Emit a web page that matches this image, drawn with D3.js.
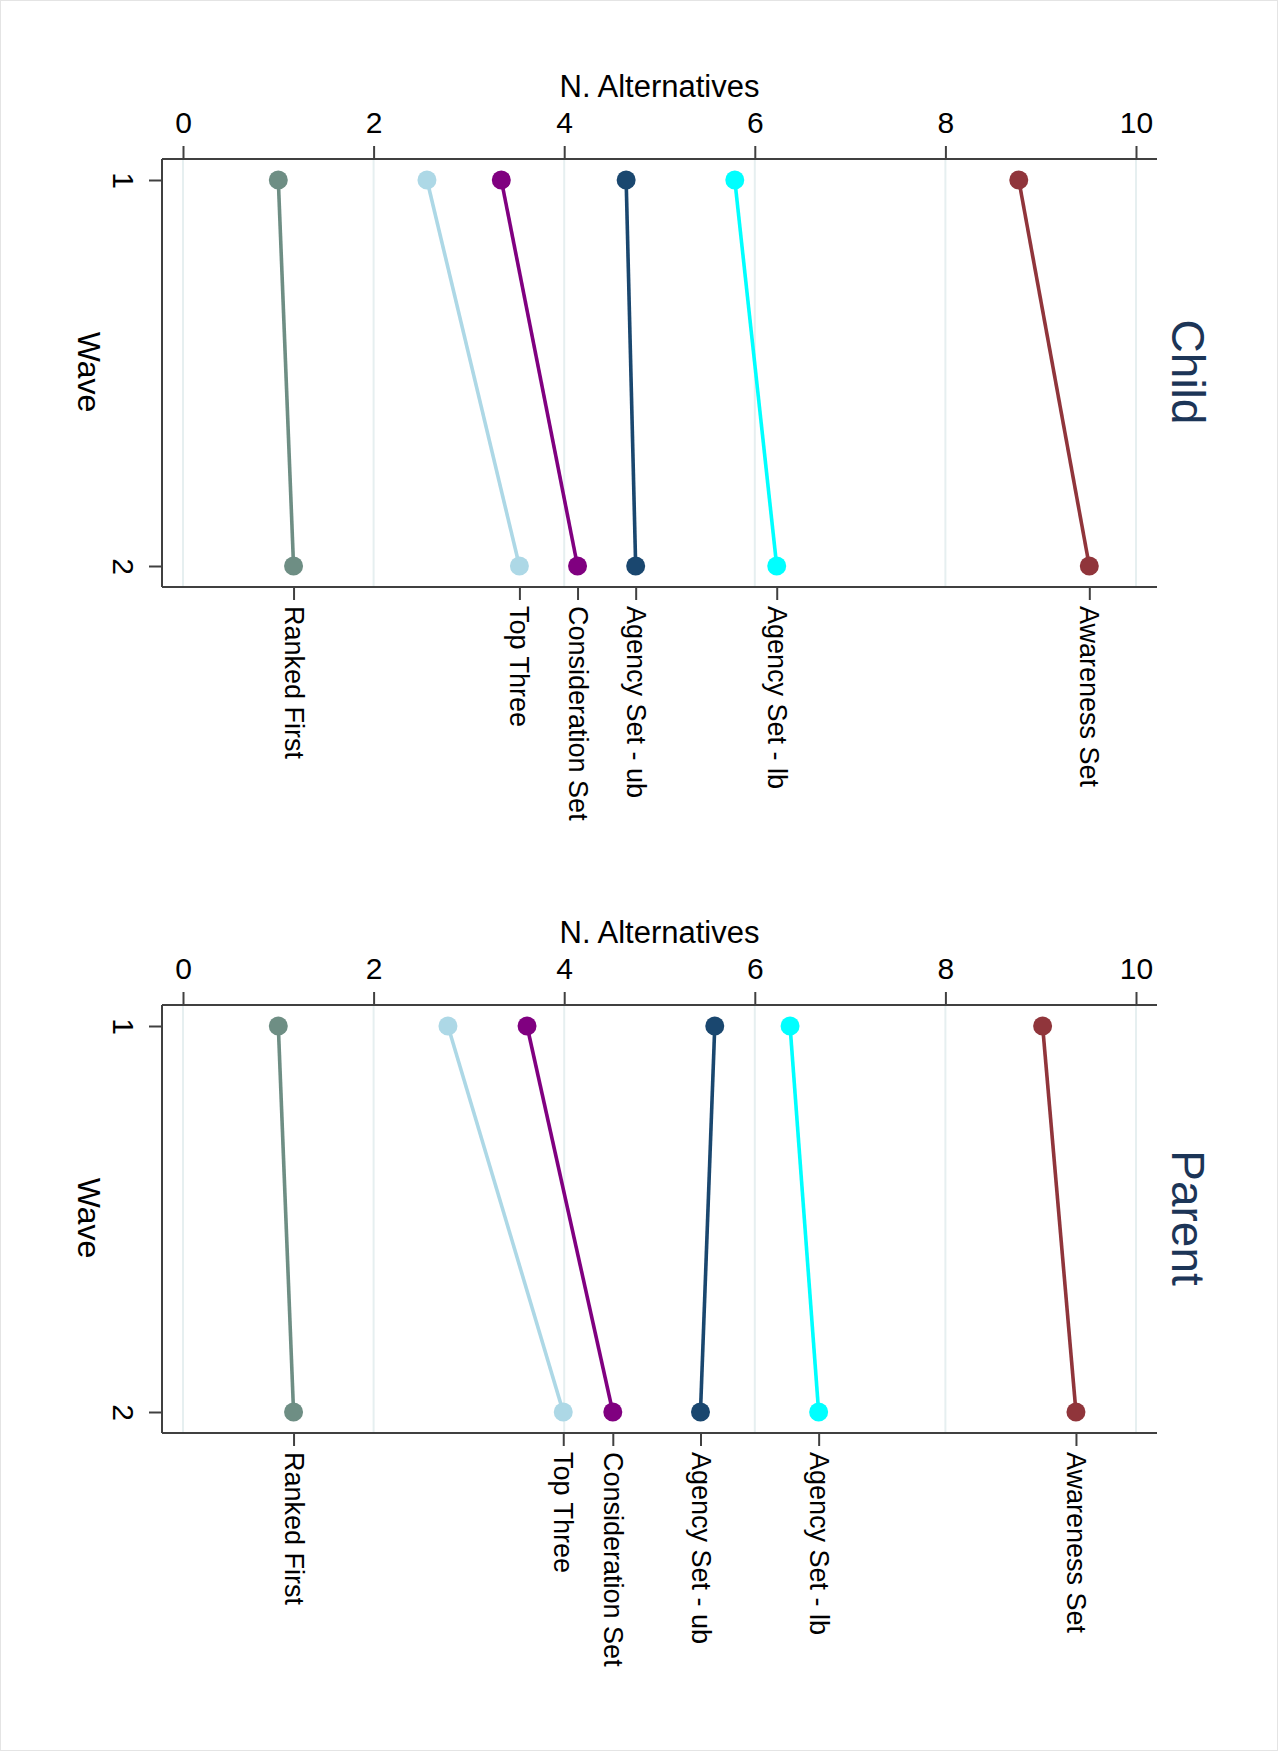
<!DOCTYPE html>
<html>
<head>
<meta charset="utf-8">
<script src="https://cdn.jsdelivr.net/npm/d3@7"></script>
<style>
  body { margin: 0; background: #fff; }
  text { font-family: "Liberation Sans", Arial, sans-serif; }
</style>
</head>
<body>
<div id="chart"></div>
<script>
// values
var series = ["Ranked First", "Top Three", "Consideration Set", "Agency Set - ub", "Agency Set - lb", "Awareness Set"];
var colors = ["#6e8e84", "#add8e6", "#800080", "#1a476f", "#00ffff", "#90353b"];
var waves = [1, 2];
var xTicks = [0, 2, 4, 6, 8, 10];

var childW1 = [1.00, 2.56, 3.34, 4.65, 5.79, 8.77];
var childW2 = [1.16, 3.53, 4.14, 4.75, 6.23, 9.51];
var parentW1 = [1.00, 2.78, 3.61, 5.58, 6.37, 9.02];
var parentW2 = [1.16, 3.99, 4.51, 5.43, 6.67, 9.37];

var W = 1278, H = 1751;
var left = 162, right = 1157, panelH = 428;
var axisCol = "#404040";

var svg = d3.select("#chart")
  .append("svg")
    .attr("width", W)
    .attr("height", H);

svg.append("rect")
  .attr("x", 0.5).attr("y", 0.5)
  .attr("width", W - 1).attr("height", H - 1)
  .attr("fill", "#fff")
  .attr("stroke", "#e4e4e4");

var x = d3.scaleLinear()
  .domain([0, 10])
  .range([183 - left, 1136 - left]);

var y = d3.scalePoint()
  .domain(waves)
  .range([21, 407]);

function drawPanel(top, w1, w2, title) {
  var g = svg.append("g")
    .attr("transform", "translate(" + left + "," + top + ")");

  // grid
  g.selectAll(".grid")
    .data(xTicks)
    .enter().append("line")
      .attr("x1", function(d) { return x(d); })
      .attr("x2", function(d) { return x(d); })
      .attr("y1", 0)
      .attr("y2", panelH)
      .attr("stroke", "#e6eff0")
      .attr("stroke-width", 2);

  // top axis (N. Alternatives)
  var ax = g.append("g")
    .call(d3.axisTop(x).tickValues(xTicks).tickSize(13).tickPadding(13).tickFormat(d3.format("d")));
  ax.select(".domain").remove();
  ax.selectAll("line").attr("stroke", axisCol).attr("stroke-width", 2);
  ax.selectAll("text")
    .attr("fill", "#000")
    .style("font-size", "30px")
    .style("font-family", "'Liberation Sans', Arial, sans-serif");

  g.append("text")
    .attr("x", (x(0) + x(10)) / 2)
    .attr("y", 97 - 159)
    .attr("text-anchor", "middle")
    .style("font-size", "31px")
    .attr("fill", "#000")
    .text("N. Alternatives");

  // bottom axis: series labels at wave 2 values
  var bx = g.append("g")
    .attr("transform", "translate(0," + panelH + ")")
    .call(d3.axisBottom(x)
      .tickValues(w2)
      .tickSize(13)
      .tickFormat(function(d, i) { return series[i]; }));
  bx.select(".domain").remove();
  bx.selectAll("line").attr("stroke", axisCol).attr("stroke-width", 2);
  bx.selectAll("text")
    .attr("x", 19)
    .attr("y", 0)
    .attr("dy", "0.35em")
    .attr("transform", "rotate(90)")
    .attr("fill", "#000")
    .style("text-anchor", "start")
    .style("font-size", "27px")
    .style("font-family", "'Liberation Sans', Arial, sans-serif");

  // left axis: wave
  var lx = g.append("g")
    .call(d3.axisLeft(y).tickSize(13));
  lx.select(".domain").remove();
  lx.selectAll("line").attr("stroke", axisCol).attr("stroke-width", 2);
  lx.selectAll("text")
    .attr("x", 0)
    .attr("dy", "0.35em")
    .attr("transform", "translate(-39,0) rotate(90)")
    .attr("fill", "#000")
    .style("text-anchor", "middle")
    .style("font-size", "30px")
    .style("font-family", "'Liberation Sans', Arial, sans-serif");

  g.append("text")
    .attr("transform", "translate(" + (89 - left) + "," + (panelH / 2 - 1) + ") rotate(90)")
    .attr("dy", "0.35em")
    .attr("text-anchor", "middle")
    .style("font-size", "32px")
    .attr("fill", "#000")
    .text("Wave");

  // frame lines
  g.append("line")
    .attr("x1", 0).attr("x2", right - left)
    .attr("y1", 0).attr("y2", 0)
    .attr("stroke", axisCol).attr("stroke-width", 2);
  g.append("line")
    .attr("x1", 0).attr("x2", right - left)
    .attr("y1", panelH).attr("y2", panelH)
    .attr("stroke", axisCol).attr("stroke-width", 2);
  g.append("line")
    .attr("x1", 0).attr("x2", 0)
    .attr("y1", 0).attr("y2", panelH)
    .attr("stroke", axisCol).attr("stroke-width", 2);

  // connected lines + markers
  var rows = series.map(function(s, i) {
    return { key: s, color: colors[i], pts: [[w1[i], 1], [w2[i], 2]] };
  });

  var line = d3.line()
    .x(function(d) { return x(d[0]); })
    .y(function(d) { return y(d[1]); });

  var sg = g.selectAll(".series")
    .data(rows)
    .enter().append("g")
      .attr("class", "series");

  sg.append("path")
    .attr("d", function(d) { return line(d.pts); })
    .attr("fill", "none")
    .attr("stroke", function(d) { return d.color; })
    .attr("stroke-width", 3.6);

  sg.selectAll("circle")
    .data(function(d) { return d.pts.map(function(p) { return { p: p, color: d.color }; }); })
    .enter().append("circle")
      .attr("cx", function(d) { return x(d.p[0]); })
      .attr("cy", function(d) { return y(d.p[1]); })
      .attr("r", 9.5)
      .attr("fill", function(d) { return d.color; });

  // panel title
  g.append("text")
    .attr("transform", "translate(" + (1172 - left) + "," + (panelH / 2 - 1) + ") rotate(90)")
    .attr("text-anchor", "middle")
    .style("font-size", "46px")
    .attr("fill", "#1c3557")
    .text(title);
}

drawPanel(159, childW1, childW2, "Child");
drawPanel(1005, parentW1, parentW2, "Parent");
</script>
</body>
</html>
